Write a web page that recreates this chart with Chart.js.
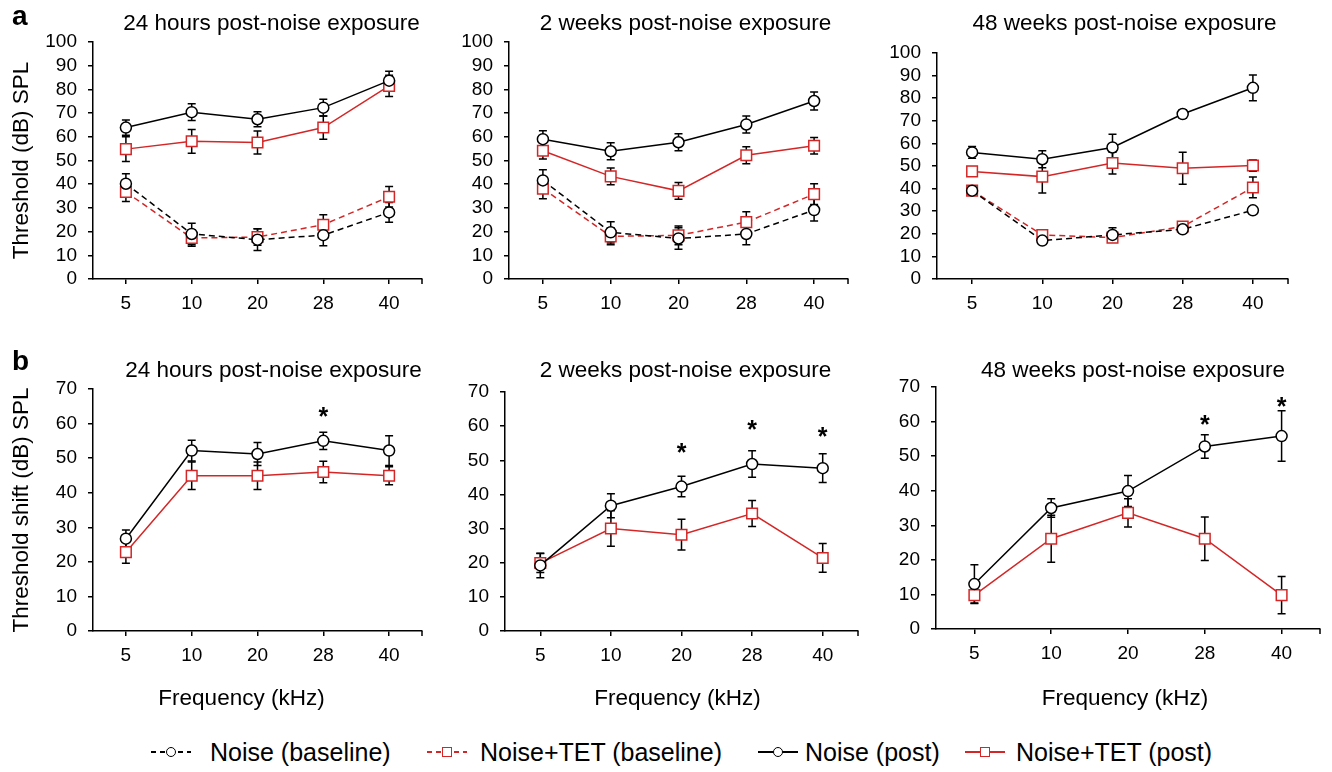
<!DOCTYPE html>
<html>
<head>
<meta charset="utf-8">
<script src="https://cdn.jsdelivr.net/npm/chart.js@4.4.1/dist/chart.umd.min.js"></script>
<style>
  html, body { margin: 0; padding: 0; background: #fff; }
  #page { position: relative; width: 1332px; height: 772px; overflow: hidden;
          font-family: 'Liberation Sans', Arial, sans-serif; color: #000; }
  canvas { position: absolute; }
  .lgText { position: absolute; top: 738px; font-size: 25px; line-height: 28px; white-space: pre; }
  .lgLine { position: absolute; top: 751px; width: 40px; height: 1.5px; }
  .lgDot { position: absolute; top: 747px; width: 8px; height: 8px; background: #fff; border: 1.4px solid #000; border-radius: 50%; }
  .lgBox { position: absolute; top: 747px; width: 8px; height: 8px; background: #fff; border: 1.4px solid #d42626; }
</style>
</head>
<body>
<div id="page"></div>
<script>
// categories
const freqLabels = ['5', '10', '20', '28', '40'];

// a) thresholds, 24 h
const a24NoisePost = [63.9, 70.4, 67.4, 72.3, 83.7];
const a24NoisePostErr = [3.2, 3.5, 3.2, 3.5, 4.0];
const a24TetPost = [54.8, 58.1, 57.6, 63.9, 81.5];
const a24TetPostErr = [5.2, 5.0, 4.9, 4.9, 4.5];
const a24NoiseBase = [40.2, 19.0, 16.6, 18.5, 28.1];
const a24NoiseBaseErr = [4.2, 4.5, 4.6, 4.5, 4.2];
const a24TetBase = [36.7, 17.3, 17.7, 22.9, 34.7];
const a24TetBaseErr = [4.0, 3.5, 3.5, 4.2, 4.3];

// a) thresholds, 2 weeks
const a2wNoisePost = [59.0, 53.9, 57.7, 65.2, 75.1];
const a2wNoisePostErr = [3.6, 3.6, 3.6, 3.6, 3.8];
const a2wTetPost = [54.1, 43.3, 37.2, 52.2, 56.2];
const a2wTetPostErr = [3.5, 3.5, 3.5, 3.6, 3.5];
const a2wNoiseBase = [41.6, 19.7, 17.1, 19.0, 29.1];
const a2wNoiseBaseErr = [4.5, 4.5, 4.5, 4.5, 4.6];
const a2wTetBase = [38.1, 18.0, 18.4, 24.0, 35.8];
const a2wTetBaseErr = [4.2, 3.6, 4.0, 4.4, 4.4];

// a) thresholds, 48 weeks
const a48NoisePost = [56.0, 53.0, 58.2, 73.0, 84.6];
const a48NoisePostErr = [2.6, 3.8, 5.9, 1.9, 5.7];
const a48TetPost = [47.6, 45.3, 51.3, 49.0, 50.2];
const a48TetPostErr = [2.0, 7.2, 4.8, 7.1, 2.5];
const a48NoiseBase = [39.1, 17.0, 19.5, 22.0, 30.4];
const a48NoiseBaseErr = [0.6, 0.8, 3.2, 1.0, 0.6];
const a48TetBase = [39.1, 19.5, 18.3, 23.2, 40.5];
const a48TetBaseErr = [1.0, 1.0, 1.5, 1.5, 4.6];

// b) threshold shifts
const b24Noise = [26.7, 52.2, 51.2, 55.0, 52.2];
const b24NoiseErr = [2.5, 3.0, 3.3, 2.5, 4.3];
const b24Tet = [22.8, 44.9, 44.9, 46.0, 44.9];
const b24TetErr = [3.2, 4.0, 4.0, 3.1, 2.6];
const b24Stars = [null, null, null, 63.5, null];

const b2wNoise = [19.2, 36.7, 42.3, 48.9, 47.7];
const b2wNoiseErr = [3.6, 3.5, 3.0, 3.9, 4.2];
const b2wTet = [19.9, 30.0, 28.2, 34.4, 21.4];
const b2wTetErr = [2.8, 5.2, 4.5, 3.8, 4.2];
const b2wStars = [null, null, 53.9, 60.5, 58.7];

const b48Noise = [13.0, 35.0, 39.9, 52.8, 55.8];
const b48NoiseErr = [5.6, 2.7, 4.5, 3.4, 7.3];
const b48Tet = [9.8, 26.1, 33.6, 26.1, 9.8];
const b48TetErr = [2.3, 6.8, 4.1, 6.3, 5.4];
const b48Stars = [null, null, null, 60.8, 65.9];

const RED = '#d42626';
const BLACK = '#000';
const FONT = "'Liberation Sans', Arial, sans-serif";

Chart.defaults.font.family = FONT;
Chart.defaults.color = '#000';

function series(label, data, err, color, dashed, square) {
  return {
    label, data, err,
    borderColor: color, borderWidth: 1.5,
    borderDash: dashed ? [6, 4] : [],
    tension: 0, fill: false,
    pointStyle: square ? 'rect' : 'circle',
    pointRadius: square ? 7.5 : 5.5,
    pointBorderWidth: 1.5,
    pointBorderColor: color,
    pointBackgroundColor: '#fff'
  };
}

// error bars, asterisks, titles, labels
const panelExtras = {
  id: 'panelExtras',
  beforeDatasetsDraw(chart) {
    const ctx = chart.ctx, xs = chart.scales.x, ys = chart.scales.y;
    ctx.save();
    ctx.strokeStyle = BLACK;
    ctx.lineWidth = 1.5;
    chart.data.datasets.forEach(ds => {
      ds.data.forEach((v, i) => {
        const e = ds.err[i];
        if (!e) return;
        const px = xs.getPixelForValue(i);
        const t = ys.getPixelForValue(v + e), b = ys.getPixelForValue(v - e);
        ctx.beginPath();
        ctx.moveTo(px, t); ctx.lineTo(px, b);
        ctx.moveTo(px - 4, t); ctx.lineTo(px + 4, t);
        ctx.moveTo(px - 4, b); ctx.lineTo(px + 4, b);
        ctx.stroke();
      });
    });
    ctx.restore();
  },
  afterDraw(chart, args, o) {
    const ctx = chart.ctx, area = chart.chartArea, xs = chart.scales.x, ys = chart.scales.y;
    const mid = (area.left + area.right) / 2;
    ctx.save();
    ctx.fillStyle = BLACK;
    // right end tick of the x axis
    ctx.strokeStyle = BLACK; ctx.lineWidth = 1.5;
    ctx.beginPath();
    ctx.moveTo(area.right, area.bottom); ctx.lineTo(area.right, area.bottom + 5);
    ctx.stroke();
    // title
    ctx.font = '22.5px ' + FONT;
    ctx.textAlign = 'center'; ctx.textBaseline = 'alphabetic';
    ctx.fillText(o.title, mid + o.titleDx, o.titleY);
    if (o.xLabel) ctx.fillText(o.xLabel, mid + o.xLabelDx, o.xLabelY);
    // significance marks
    if (o.stars) {
      ctx.font = 'bold 25px ' + FONT;
      o.stars.forEach((v, i) => {
        if (v == null) return;
        ctx.fillText('*', xs.getPixelForValue(i), ys.getPixelForValue(v) + 14);
      });
    }
    if (o.letter) {
      ctx.font = 'bold 28px ' + FONT;
      ctx.textAlign = 'left';
      ctx.fillText(o.letter, 12, o.letterY);
    }
    ctx.restore();
  }
};

const topSets = (np, npe, tp, tpe, nb, nbe, tb, tbe) => [
  series('Noise (post)', np, npe, BLACK, false, false),
  series('Noise (baseline)', nb, nbe, BLACK, true, false),
  series('Noise+TET (post)', tp, tpe, RED, false, true),
  series('Noise+TET (baseline)', tb, tbe, RED, true, true)
];
const bottomSets = (n, ne, t, te) => [
  series('Noise (post)', n, ne, BLACK, false, false),
  series('Noise+TET (post)', t, te, RED, false, true)
];

const panels = [
  { row: 'a', box: {L: 93, R: 423, T: 42, B: 279}, yW: 93, max: 100, yTitle: 'Threshold (dB) SPL', letter: 'a',
    title: '24 hours post-noise exposure', titleDx: 14,
    sets: topSets(a24NoisePost, a24NoisePostErr, a24TetPost, a24TetPostErr, a24NoiseBase, a24NoiseBaseErr, a24TetBase, a24TetBaseErr) },
  { row: 'a', box: {L: 509, R: 849, T: 42, B: 279}, yW: 60, max: 100,
    title: '2 weeks post-noise exposure', titleDx: 7,
    sets: topSets(a2wNoisePost, a2wNoisePostErr, a2wTetPost, a2wTetPostErr, a2wNoiseBase, a2wNoiseBaseErr, a2wTetBase, a2wTetBaseErr) },
  { row: 'a', box: {L: 937, R: 1289, T: 53, B: 279}, yW: 60, max: 100,
    title: '48 weeks post-noise exposure', titleDx: 12,
    sets: topSets(a48NoisePost, a48NoisePostErr, a48TetPost, a48TetPostErr, a48NoiseBase, a48NoiseBaseErr, a48TetBase, a48TetBaseErr) },
  { row: 'b', box: {L: 93, R: 423, T: 389, B: 631}, yW: 93, max: 70, yTitle: 'Threshold shift (dB) SPL', letter: 'b',
    title: '24 hours post-noise exposure', titleDx: 16, xLabelDx: -16, stars: b24Stars,
    sets: bottomSets(b24Noise, b24NoiseErr, b24Tet, b24TetErr) },
  { row: 'b', box: {L: 505, R: 859, T: 392, B: 631}, yW: 60, max: 70,
    title: '2 weeks post-noise exposure', titleDx: 4, xLabelDx: -4, stars: b2wStars,
    sets: bottomSets(b2wNoise, b2wNoiseErr, b2wTet, b2wTetErr) },
  { row: 'b', box: {L: 936, R: 1321, T: 387, B: 629}, yW: 60, max: 70,
    title: '48 weeks post-noise exposure', titleDx: 5, xLabelDx: -3, stars: b48Stars,
    sets: bottomSets(b48Noise, b48NoiseErr, b48Tet, b48TetErr) }
];

const page = document.getElementById('page');

panels.forEach(p => {
  const top = p.row === 'a' ? 0 : 340;
  const h = p.row === 'a' ? 330 : 372;
  const left = p.box.L - p.yW;
  const w = p.box.R - left + 8;
  const cv = document.createElement('canvas');
  cv.width = w; cv.height = h;
  cv.style.left = left + 'px'; cv.style.top = top + 'px';
  cv.style.width = w + 'px'; cv.style.height = h + 'px';
  page.appendChild(cv);

  const axisGrid = { drawOnChartArea: false, drawTicks: true, tickLength: 5, color: BLACK, lineWidth: 1.5 };

  new Chart(cv, {
    type: 'line',
    data: { labels: freqLabels, datasets: p.sets },
    options: {
      responsive: false, animation: false, devicePixelRatio: 1,
      layout: { padding: { top: p.box.T - top, bottom: top + h - p.box.B - 40, left: 0, right: 8 } },
      plugins: {
        legend: { display: false },
        tooltip: { enabled: false },
        panelExtras: {
          title: p.title, titleDx: p.titleDx, titleY: p.row === 'a' ? 30 : 37,
          xLabel: p.row === 'b' ? 'Frequency (kHz)' : null, xLabelDx: p.xLabelDx, xLabelY: 365,
          stars: p.stars, letter: p.letter, letterY: p.row === 'a' ? 25 : 30
        }
      },
      scales: {
        x: {
          type: 'category', offset: true,
          grid: Object.assign({ offset: false }, axisGrid),
          border: { color: BLACK, width: 1.5 },
          ticks: { color: BLACK, font: { size: 19 }, padding: 8, maxRotation: 0, autoSkip: false },
          afterFit(s) { s.height = 40; }
        },
        y: {
          min: 0, max: p.max,
          grid: axisGrid,
          border: { color: BLACK, width: 1.5 },
          ticks: { stepSize: 10, maxTicksLimit: 12, autoSkip: false, color: BLACK, font: { size: 19, lineHeight: 1 }, padding: 11 },
          title: { display: !!p.yTitle, text: p.yTitle || '', color: BLACK, font: { size: 22.5 }, padding: { top: 8, bottom: 0 } },
          afterFit(s) { s.width = p.yW; }
        }
      }
    },
    plugins: [panelExtras]
  });
});

// legend
const legendItems = [
  { text: 'Noise (baseline)', color: BLACK, dashed: true, square: false, cx: 171, tx: 210 },
  { text: 'Noise+TET (baseline)', color: RED, dashed: true, square: true, cx: 447, tx: 480 },
  { text: 'Noise (post)', color: BLACK, dashed: false, square: false, cx: 778, tx: 805 },
  { text: 'Noise+TET (post)', color: RED, dashed: false, square: true, cx: 985, tx: 1016 }
];
legendItems.forEach(it => {
  const line = document.createElement('div');
  line.className = 'lgLine';
  line.style.left = (it.cx - 20) + 'px';
  line.style.background = it.dashed
    ? `repeating-linear-gradient(to right, ${it.color} 0 5px, transparent 5px 9px)`
    : it.color;
  page.appendChild(line);
  const mk = document.createElement('div');
  mk.className = it.square ? 'lgBox' : 'lgDot';
  mk.style.left = (it.cx - 5.4) + 'px';
  page.appendChild(mk);
  const tx = document.createElement('div');
  tx.className = 'lgText';
  tx.style.left = it.tx + 'px';
  tx.textContent = it.text;
  page.appendChild(tx);
});
</script>
</body>
</html>
